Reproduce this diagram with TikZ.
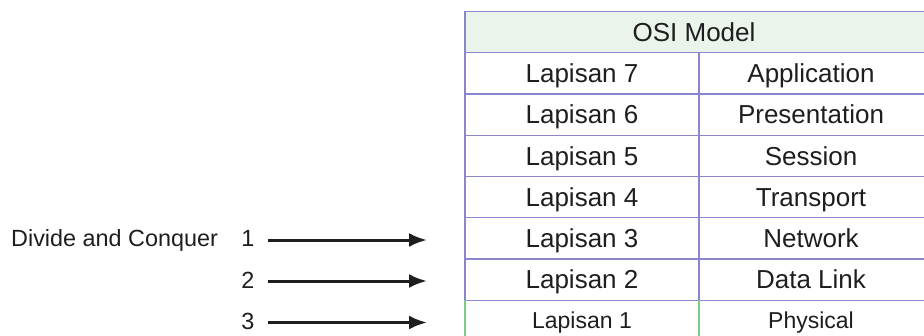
\documentclass[tikz,border=0pt]{standalone}
\usepackage{fontspec}
\setmainfont{Liberation Sans}
\usetikzlibrary{arrows.meta}

\definecolor{gridpurple}{HTML}{8A86CC}
\definecolor{gridgreen}{HTML}{7DCB8C}
\definecolor{headgreen}{HTML}{EAF4EA}
\definecolor{inkgray}{HTML}{1E1E1E}

\begin{document}
\begin{tikzpicture}[x=1pt, y=-1pt]
\useasboundingbox (0,0) rectangle (924,335);

\coordinate (R0_W) at (465, 11.5);
\coordinate (R0_E) at (924, 11.5);
\coordinate (R1_W) at (465, 52.7);
\coordinate (R1_E) at (924, 52.7);
\coordinate (R2_W) at (465, 94);
\coordinate (R2_E) at (924, 94);
\coordinate (R3_W) at (465, 135.2);
\coordinate (R3_E) at (924, 135.2);
\coordinate (R4_W) at (465, 176.5);
\coordinate (R4_E) at (924, 176.5);
\coordinate (R5_W) at (465, 217.7);
\coordinate (R5_E) at (924, 217.7);
\coordinate (R6_W) at (465, 259);
\coordinate (R6_E) at (924, 259);
\coordinate (R7_W) at (465, 300.2);
\coordinate (R7_E) at (924, 300.2);
\coordinate (B_W) at (465, 336);
\coordinate (M1) at (699, 52.7);
\coordinate (M7) at (699, 300.2);
\coordinate (B_M) at (699, 336);


\fill[headgreen] (R0_W) rectangle (R1_E);


\tikzset{GridStyle/.style = {line width=1.2pt, draw=gridpurple} }

\draw[GridStyle] (R0_E) -- (R0_W) -- (R7_W);
\draw[GridStyle] (R1_W) -- (R1_E);
\draw[GridStyle] (R2_W) -- (R2_E);
\draw[GridStyle] (R3_W) -- (R3_E);
\draw[GridStyle] (R4_W) -- (R4_E);
\draw[GridStyle] (R5_W) -- (R5_E);
\draw[GridStyle] (R6_W) -- (R6_E);
\draw[GridStyle] (R7_W) -- (R7_E);
\draw[GridStyle] (M1) -- (M7);
\draw[GridStyle, draw=gridgreen] (R7_W) -- (B_W);
\draw[GridStyle, draw=gridgreen] (M7) -- (B_M);


\tikzset{CellStyle/.style = {
 anchor = base,
 text = inkgray,
 inner sep = 0pt,
 font = \fontsize{26}{31}\selectfont} }

\node[CellStyle] (Head) at (694, 41.5) {OSI Model};
\node[CellStyle] (L7) at (582, 82.6) {Lapisan 7};
\node[CellStyle] (N7) at (811, 82.6) {Application};
\node[CellStyle] (L6) at (582, 123.9) {Lapisan 6};
\node[CellStyle] (N6) at (811, 123.9) {Presentation};
\node[CellStyle] (L5) at (582, 165.1) {Lapisan 5};
\node[CellStyle] (N5) at (811, 165.1) {Session};
\node[CellStyle] (L4) at (582, 206.4) {Lapisan 4};
\node[CellStyle] (N4) at (811, 206.4) {Transport};
\node[CellStyle] (L3) at (582, 247.6) {Lapisan 3};
\node[CellStyle] (N3) at (811, 247.6) {Network};
\node[CellStyle] (L2) at (582, 288.9) {Lapisan 2};
\node[CellStyle] (N2) at (811, 288.9) {Data Link};
\node[CellStyle, font=\fontsize{23}{28}\selectfont] (L1) at (582, 328.3) {Lapisan 1};
\node[CellStyle, font=\fontsize{23}{28}\selectfont] (N1) at (811, 328.3) {Physical};


\tikzset{LabelStyle/.style = {
 anchor = base,
 text = inkgray,
 inner sep = 0pt,
 font = \fontsize{23.4}{28}\selectfont} }

\node[LabelStyle, anchor=base west] (Divide) at (11, 246.7) {Divide and Conquer};
\node[LabelStyle] (Num1) at (248, 246.7) {1};
\node[LabelStyle] (Num2) at (248, 288) {2};
\node[LabelStyle] (Num3) at (248, 329.3) {3};

\coordinate (Tip1) at (427, 240);
\coordinate (Tip2) at (427, 281);
\coordinate (Tip3) at (427, 322.5);


\tikzset{ArrowStyle/.style = {line width=3pt, draw=inkgray, -{Latex[length=18pt, width=14pt]}} }

\draw[ArrowStyle] (Num1.east |- Tip1) ++(13,0) -- (Tip1);
\draw[ArrowStyle] (Num2.east |- Tip2) ++(13,0) -- (Tip2);
\draw[ArrowStyle] (Num3.east |- Tip3) ++(13,0) -- (Tip3);

\end{tikzpicture}
\end{document}
